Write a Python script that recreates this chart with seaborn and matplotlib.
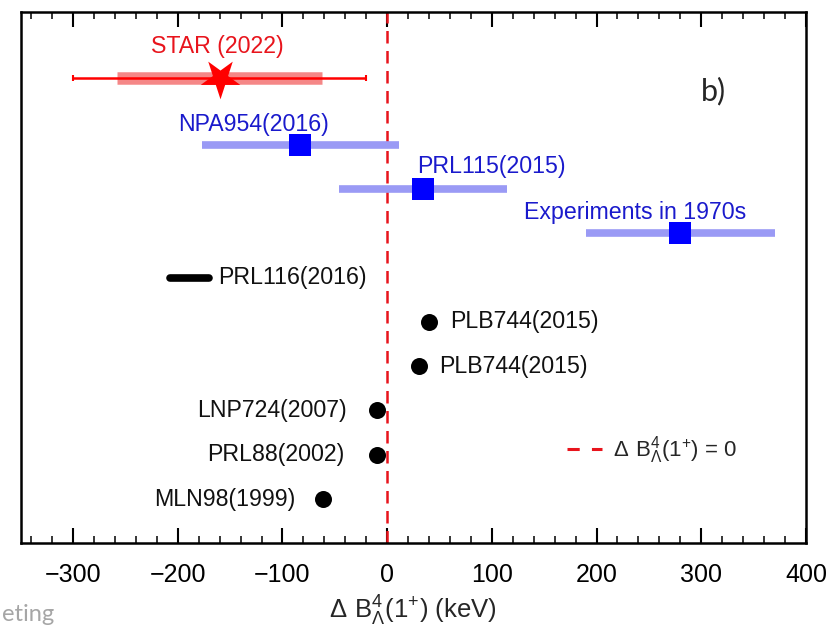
import matplotlib
matplotlib.use("Agg")
import matplotlib.pyplot as plt
from matplotlib.markers import MarkerStyle
from matplotlib.transforms import Affine2D
from matplotlib.lines import Line2D
import pandas as pd
import seaborn as sns

# STAR measurement: central value, stat and syst errors
star_x, star_stat, star_syst, star_row = -160, 140, 98, 10.5

# earlier experiments with error bands
exp_labels = ["NPA954(2016)", "PRL115(2015)", "Experiments in 1970s"]
exp_x = [-83, 34, 280]
exp_err = [94, 80, 90]
exp_rows = [9, 8, 7]

# theory range
range_label = "PRL116(2016)"
range_lo, range_hi, range_row = -207, -170, 6

# theory points
th_labels = ["PLB744(2015)", "PLB744(2015)", "LNP724(2007)", "PRL88(2002)", "MLN98(1999)"]
th_x = [40, 30, -10, -10, -61]
th_rows = [5, 4, 3, 2, 1]


def main():
    sns.set_theme(style="ticks")
    plt.rcParams["font.family"] = ["Liberation Sans", "DejaVu Sans"]
    plt.rcParams["mathtext.default"] = "regular"
    narrow = ["Liberation Sans Narrow", "Liberation Sans", "DejaVu Sans"]
    fs = 16.7

    fig = plt.figure(figsize=(8.3, 6.29), dpi=100)
    ax = fig.add_axes([0.025, 0.1362, 0.946, 0.845])

    # STAR point
    ax.hlines(star_row, star_x - star_syst, star_x + star_syst, color="#f47a7a", lw=9, alpha=0.9, zorder=2)
    ax.errorbar([star_x], [star_row], xerr=[star_stat], fmt="none", ecolor="red", elinewidth=1.8,
                capsize=2, capthick=1.5, zorder=3)
    star = MarkerStyle("*", transform=Affine2D().rotate_deg(180))
    ax.scatter([star_x], [star_row], marker=star, s=900, color="red", linewidths=0, zorder=4)
    ax.text(star_x - 2, star_row + 0.72, "STAR (2022)", color="#e8141c", fontsize=fs, ha="center", va="center")

    # experiments
    for lab, x, e, r in zip(exp_labels, exp_x, exp_err, exp_rows):
        ax.hlines(r, x - e, x + e, color="#9a9af5", lw=5.5, zorder=2)
    exp_df = pd.DataFrame({"x": exp_x, "row": exp_rows})
    sns.scatterplot(data=exp_df, x="x", y="row", marker="s", s=260, color="blue", linewidth=0, ax=ax, zorder=4)
    ax.text(-128, 9.46, exp_labels[0], color="#1a1acc", fontsize=fs, ha="center", va="center")
    ax.text(29, 8.5, exp_labels[1], color="#1a1acc", fontsize=fs, ha="left", va="center")
    ax.text(131, 7.48, exp_labels[2], color="#1a1acc", fontsize=fs, ha="left", va="center")

    # theory range
    ax.plot([range_lo, range_hi], [range_row, range_row], color="black", lw=5.5, solid_capstyle="round", zorder=3)
    ax.text(-161, range_row, range_label, fontsize=fs, ha="left", va="center", color="#111111")

    # theory points
    th_df = pd.DataFrame({"x": th_x, "row": th_rows})
    sns.scatterplot(data=th_df, x="x", y="row", marker="o", s=150, color="black", linewidth=0, ax=ax, zorder=4)
    ax.text(60, th_rows[0], th_labels[0], fontsize=fs, ha="left", va="center", color="#111111")
    ax.text(50, th_rows[1], th_labels[1], fontsize=fs, ha="left", va="center", color="#111111")
    ax.text(-39, th_rows[2], th_labels[2], fontsize=fs, ha="right", va="center", color="#111111")
    ax.text(-41, th_rows[3], th_labels[3], fontsize=fs, ha="right", va="center", color="#111111")
    ax.text(-88, th_rows[4], th_labels[4], fontsize=fs, ha="right", va="center", color="#111111")

    # zero line
    ax.axvline(0, color="#e8141c", lw=1.8, ls=(0, (5, 3)), zorder=1)
    handle = Line2D([], [], color="#e8141c", lw=2.2, ls=(0, (4, 4)))
    ax.legend([handle], [r"$\Delta\ B^4_\Lambda(1^{+})$ = 0"], loc="center left", bbox_to_anchor=(0.67, 0.175),
              frameon=False, fontsize=16, handlelength=1.6, handletextpad=0.5)

    ax.text(300, 10.2, "b)", fontsize=22, family=["Lato", "DejaVu Sans"], ha="left", va="center")

    ax.set_xlim(-350, 400)
    ax.set_ylim(0, 12)
    ax.set_xticks(range(-300, 401, 100))
    ax.set_xticks(range(-340, 401, 20), minor=True)
    ax.set_xticklabels(["\u2212300", "\u2212200", "\u2212100", "0", "100", "200", "300", "400"])
    ax.set_yticks([])
    ax.tick_params(axis="x", which="major", direction="in", length=11, width=1.5, top=True, bottom=True,
                   labelsize=18, pad=14, colors="black")
    ax.tick_params(axis="x", which="minor", direction="in", length=5, width=1.3, top=True, bottom=True)
    for s in ax.spines.values():
        s.set_linewidth(1.8)
        s.set_color("black")
    ax.set_xlabel(r"$\Delta\ B^4_\Lambda(1^{+})$ (keV)", fontsize=18.5, family=narrow, labelpad=5)
    ax.set_ylabel("")

    fig.text(0.003, 0.012, "eting", fontsize=17, color="#a6a6a6", family=["Lato", "DejaVu Sans"])

    fig.savefig("out.png", dpi=100)
    plt.close(fig)


if __name__ == "__main__":
    main()
